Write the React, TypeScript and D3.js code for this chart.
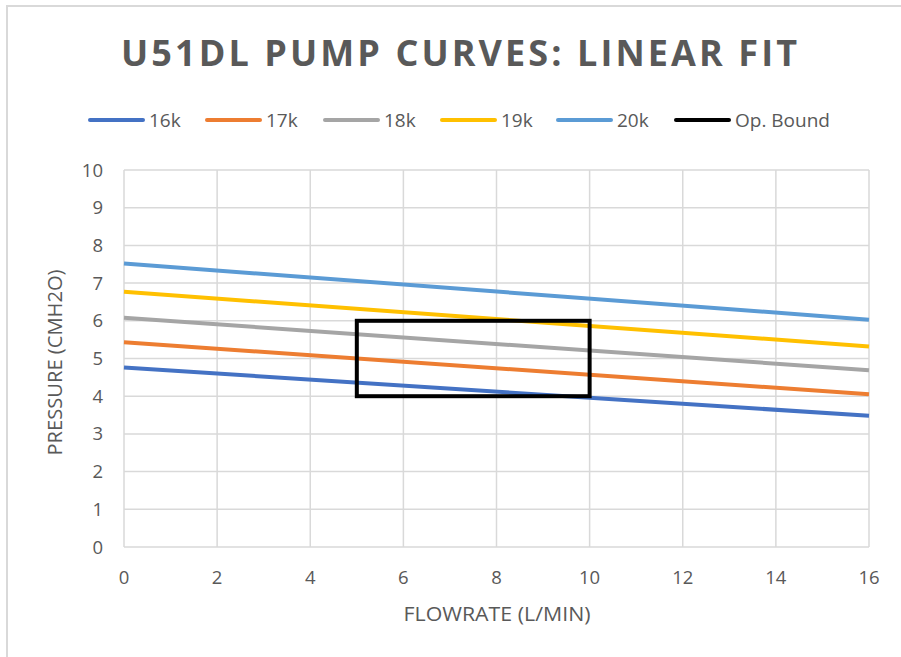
import React from 'react';
import * as d3 from 'd3';

const flowX = [0, 16];
const series = [
  { name: '16k', color: '#4472C4', values: [4.76, 3.48] },
  { name: '17k', color: '#ED7D31', values: [5.43, 4.05] },
  { name: '18k', color: '#A5A5A5', values: [6.08, 4.69] },
  { name: '19k', color: '#FFC000', values: [6.77, 5.32] },
  { name: '20k', color: '#5B9BD5', values: [7.52, 6.03] },
];
const opBound = { name: 'Op. Bound', color: '#000000', x: [5, 10], y: [4, 6] };
const xTicks = [0, 2, 4, 6, 8, 10, 12, 14, 16];
const yTicks = [0, 1, 2, 3, 4, 5, 6, 7, 8, 9, 10];

const W = 901;
const H = 657;
const plot = { left: 124, right: 869, top: 170, bottom: 547 };
const font = '"Open Sans", "Noto Sans", sans-serif';
const textColor = '#595959';

const App = () => {
  const x = d3.scaleLinear().domain([0, 16]).range([plot.left, plot.right]);
  const y = d3.scaleLinear().domain([0, 10]).range([plot.bottom, plot.top]);

  const line = d3.line<[number, number]>()
    .x(d => x(d[0]))
    .y(d => y(d[1]));

  const legendItems = [...series.map(s => ({ name: s.name, color: s.color })), { name: opBound.name, color: opBound.color }];
  const legendX = [90, 207, 325, 442, 558, 676];

  return (
    <svg width={W} height={H} style={{ position: 'absolute', left: 0, top: 0, background: '#fff' }}>
      {/* outer frame */}
      <rect x={7} y={6} width={W + 10} height={H + 10} fill="none" stroke="#d9d9d9" strokeWidth={2} />

      <text x={121} y={66} fontFamily={font} fontWeight={700} fontSize={36} fill={textColor}
        textLength={676} lengthAdjust="spacing">U51DL PUMP CURVES: LINEAR FIT</text>

      {/* legend */}
      {legendItems.map((it, i) => (
        <g key={it.name} transform={`translate(${legendX[i]},120)`}>
          <line x1={0} x2={53} y1={0} y2={0} stroke={it.color} strokeWidth={4} strokeLinecap="round" />
          <text x={59} y={7} fontFamily={font} fontSize={19} fill={textColor}>{it.name}</text>
        </g>
      ))}

      {/* grid */}
      {yTicks.map(t => (
        <line key={'gy' + t} x1={plot.left} x2={plot.right} y1={y(t)} y2={y(t)} stroke="#d9d9d9" strokeWidth={1.5} />
      ))}
      {xTicks.map(t => (
        <line key={'gx' + t} x1={x(t)} x2={x(t)} y1={plot.top} y2={plot.bottom} stroke="#d9d9d9" strokeWidth={1.5} />
      ))}

      {/* y tick labels */}
      {yTicks.map(t => (
        <text key={'ty' + t} x={103} y={y(t) + 6.5} textAnchor="end" fontFamily={font} fontSize={18.5} fill={textColor}>{t}</text>
      ))}
      {/* x tick labels */}
      {xTicks.map(t => (
        <text key={'tx' + t} x={x(t)} y={584} textAnchor="middle" fontFamily={font} fontSize={18.5} fill={textColor}>{t}</text>
      ))}

      <text x={497} y={621} textAnchor="middle" fontFamily={font} fontSize={20} fill={textColor}
        textLength={187} lengthAdjust="spacingAndGlyphs">FLOWRATE (L/MIN)</text>
      <text transform={`translate(62,${(plot.top + plot.bottom) / 2 + 4}) rotate(-90)`} textAnchor="middle"
        fontFamily={font} fontSize={20} fill={textColor}
        textLength={186} lengthAdjust="spacingAndGlyphs">PRESSURE (CMH2O)</text>

      {/* series */}
      {series.map(s => (
        <path key={s.name} d={line(flowX.map((fx, i) => [fx, s.values[i]]) as [number, number][]) || ''}
          fill="none" stroke={s.color} strokeWidth={4} />
      ))}

      {/* operating bound */}
      <rect x={x(opBound.x[0])} y={y(opBound.y[1])} width={x(opBound.x[1]) - x(opBound.x[0])}
        height={y(opBound.y[0]) - y(opBound.y[1])} fill="none" stroke={opBound.color} strokeWidth={4} />
    </svg>
  );
};

export default App;
